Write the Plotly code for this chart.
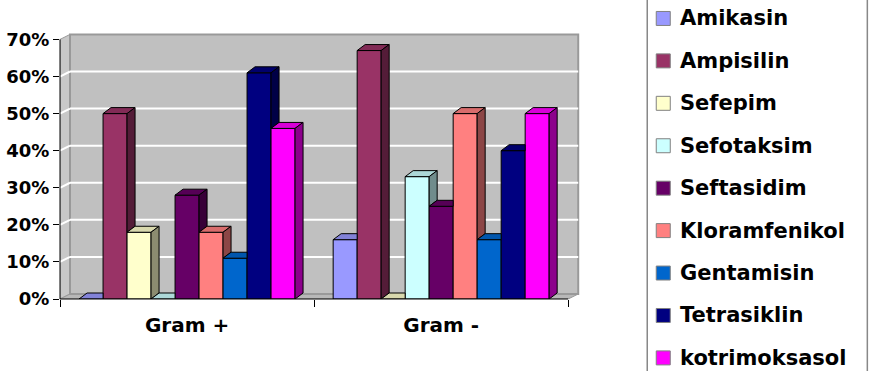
import plotly.graph_objects as go

# ---------------- data ----------------
categories = ["Gram +", "Gram -"]
antibiotics = ["Amikasin", "Ampisilin", "Sefepim", "Sefotaksim", "Seftasidim",
               "Kloramfenikol", "Gentamisin", "Tetrasiklin", "kotrimoksasol"]
gram_pos = [0, 50, 18, 0, 28, 18, 11, 61, 46]
gram_neg = [16, 67, 0, 33, 25, 50, 16, 40, 50]
colors = ["#9999FF", "#993366", "#FFFFCC", "#CCFFFF", "#660066",
          "#FF8080", "#0066CC", "#000080", "#FF00FF"]
y_tickvals = [0, 10, 20, 30, 40, 50, 60, 70]
y_ticktext = ["0%", "10%", "20%", "30%", "40%", "50%", "60%", "70%"]

# ---------------- geometry (style) ----------------
W, H = 882, 371
L, B = 60, 72
X_PX = 254.0            # pixels per category unit
Y_PX = 260.0 / 70.0     # pixels per percent
XMIN, XMAX, XEXT = -0.5, 1.5, 0.07
YMAX = 72
plotW = (XMAX + XEXT - XMIN) * X_PX
plotH = YMAX * Y_PX
T = H - B - plotH
R = W - L - plotW

bargap = 0.15
n = len(antibiotics)
bw = (1 - bargap) / n
dxb, dyb = 8 / X_PX, 6 / Y_PX       # bar depth
dxw, dyw = 10 / X_PX, 5 / Y_PX      # wall depth

FONT = "DejaVu Sans"


def shade(hexcol, f):
    h = hexcol.lstrip("#")
    r, g, b = (int(h[i:i + 2], 16) for i in (0, 2, 4))
    return "rgb(%d,%d,%d)" % (r * f, g * f, b * f)


def path(pts):
    return "M " + " L ".join("%.5f,%.5f" % p for p in pts) + " Z"


def pxx(px):  # absolute pixel x -> paper
    return (px - L) / plotW


def pxy(py):  # absolute pixel y -> paper
    return (H - B - py) / plotH


fig = go.Figure()
shapes = []
annotations = []

# walls / floor
wall_col = "#c0c0c0"
edge_col = "#999999"
shapes.append(dict(type="path", xref="x", yref="y", layer="below",
                   path=path([(XMIN, 0), (XMIN + dxw, dyw), (XMIN + dxw, 70 + dyw), (XMIN, 70)]),
                   fillcolor="#c8c8c8", line=dict(color=edge_col, width=1)))
shapes.append(dict(type="path", xref="x", yref="y", layer="below",
                   path=path([(XMIN, 0), (XMAX, 0), (XMAX + dxw, dyw), (XMIN + dxw, dyw)]),
                   fillcolor="#b8b8b8", line=dict(color=edge_col, width=1)))
shapes.append(dict(type="path", xref="x", yref="y", layer="below",
                   path=path([(XMIN + dxw, dyw), (XMAX + dxw, dyw), (XMAX + dxw, 70 + dyw), (XMIN + dxw, 70 + dyw)]),
                   fillcolor=wall_col, line=dict(color=edge_col, width=2)))
for v in y_tickvals[1:-1]:
    shapes.append(dict(type="line", xref="x", yref="y", layer="below",
                       x0=XMIN + dxw, x1=XMAX + dxw, y0=v + dyw, y1=v + dyw,
                       line=dict(color="white", width=2)))
    shapes.append(dict(type="line", xref="x", yref="y", layer="below",
                       x0=XMIN, x1=XMIN + dxw, y0=v, y1=v + dyw,
                       line=dict(color="white", width=2)))

# bars (front faces) + 3D top / side faces
values = [[gram_pos[j], gram_neg[j]] for j in range(n)]
for j, name in enumerate(antibiotics):
    off = -(1 - bargap) / 2 + j * bw
    fig.add_trace(go.Bar(
        x=[0, 1], y=values[j], name=name, width=bw, offset=off,
        marker=dict(color=colors[j], line=dict(color="black", width=1)),
        showlegend=False, hovertemplate=name + ": %{y}%<extra></extra>"))
    for k in range(len(categories)):
        v = values[j][k]
        x0 = k + off
        x1 = x0 + bw
        nxt = values[j + 1][k] if j < n - 1 else None
        if nxt is not None and nxt > v:
            top = [(x0, v), (x1, v), (x1, v + dyb), (x0 + dxb, v + dyb)]
        else:
            top = [(x0, v), (x1, v), (x1 + dxb, v + dyb), (x0 + dxb, v + dyb)]
        shapes.append(dict(type="path", xref="x", yref="y", layer="above",
                           path=path(top), fillcolor=shade(colors[j], 0.85),
                           line=dict(color="black", width=1)))
        if nxt is None or nxt < v:
            low = 0 if nxt is None else nxt
            side = [(x1, low), (x1 + dxb, low + dyb), (x1 + dxb, v + dyb), (x1, v)]
            shapes.append(dict(type="path", xref="x", yref="y", layer="above",
                               path=path(side), fillcolor=shade(colors[j], 0.55),
                               line=dict(color="black", width=1)))

# front axis lines
shapes.append(dict(type="line", xref="paper", yref="y", layer="above",
                   x0=0, x1=0, y0=0, y1=70, line=dict(color="black", width=1)))
shapes.append(dict(type="line", xref="x", yref="paper", layer="above",
                   x0=XMIN, x1=XMAX, y0=0, y1=0, line=dict(color="black", width=1)))

# legend (manual)
leg_left, leg_right, leg_top, leg_bot = 647, 867, -6, 378
shapes.append(dict(type="rect", xref="paper", yref="paper", layer="above",
                   x0=pxx(leg_left), x1=pxx(leg_right), y0=pxy(leg_bot), y1=pxy(leg_top),
                   fillcolor="white", line=dict(color="#888888", width=1.5)))
first_y, step = 18, 42.5
for j, name in enumerate(antibiotics):
    cy = first_y + j * step
    shapes.append(dict(type="rect", xref="paper", yref="paper", layer="above",
                       x0=pxx(656), x1=pxx(670), y0=pxy(cy + 7), y1=pxy(cy - 7),
                       fillcolor=colors[j], line=dict(color="#808080", width=1)))
    annotations.append(dict(xref="paper", yref="paper", x=pxx(678), y=pxy(cy),
                            xanchor="left", yanchor="middle", showarrow=False,
                            text=name, font=dict(family=FONT, size=21, color="black", weight="bold")))

fig.update_layout(
    width=W, height=H, barmode="overlay",
    margin=dict(l=L, r=R, t=T, b=B, autoexpand=False),
    paper_bgcolor="white", plot_bgcolor="white",
    shapes=shapes, annotations=annotations,
    xaxis=dict(range=[XMIN, XMAX + XEXT], tickmode="array", tickvals=[0, 1], ticktext=categories,
               ticks="", showgrid=False, zeroline=False, showline=False,
               tickfont=dict(family=FONT, size=20, color="black", weight="bold"),
               ticklabelstandoff=12,
               minor=dict(tickmode="array", tickvals=[-0.5, 0.5, 1.5], ticks="outside",
                          ticklen=7, tickcolor="black", tickwidth=1, showgrid=False)),
    yaxis=dict(range=[0, YMAX], tickmode="array", tickvals=y_tickvals, ticktext=y_ticktext,
               ticks="outside", ticklen=6, tickcolor="black", showgrid=False, zeroline=False,
               showline=False,
               tickfont=dict(family=FONT, size=18, color="black", weight="bold")),
)

fig.write_html("out.html")
